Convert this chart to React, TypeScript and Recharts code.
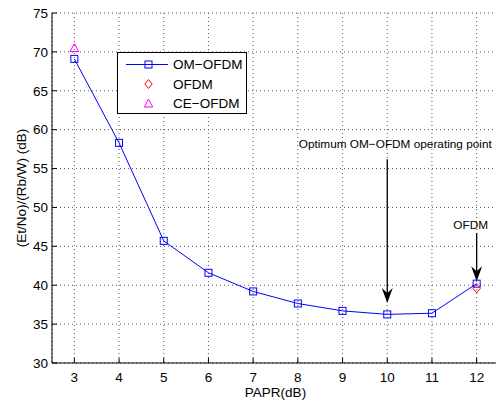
import React from 'react';
import { ComposedChart, Line, Scatter, XAxis, YAxis, CartesianGrid, ReferenceLine } from 'recharts';

const papr = [3, 4, 5, 6, 7, 8, 9, 10, 11, 12];
const omOfdm = [69.1, 58.3, 45.7, 41.6, 39.2, 37.65, 36.7, 36.25, 36.4, 40.2];
const ofdmX = [12];
const ofdmY = [39.6];
const ceOfdmX = [3];
const ceOfdmY = [70.5];
const xTicks = [3, 4, 5, 6, 7, 8, 9, 10, 11, 12];
const yTicks = [30, 35, 40, 45, 50, 55, 60, 65, 70, 75];
const xDomain = [2.5, 12.5];
const yDomain = [30, 75];
const legendNames = ['OM−OFDM', 'OFDM', 'CE−OFDM'];
const annotationText = ['Optimum OM−OFDM operating point', 'OFDM'];
const annotationX = [10, 12];
const annotationFrom = [56.2, 46.7];
const annotationTo = [37.7, 40.5];

const omData = papr.map((x, i) => ({ x, om: omOfdm[i] }));
const ofdmData = ofdmX.map((x, i) => ({ x, ofdm: ofdmY[i] }));
const ceData = ceOfdmX.map((x, i) => ({ x, ce: ceOfdmY[i] }));

const FONT = '"Liberation Sans", Arial, Helvetica, sans-serif';
const BLUE = '#0000ff';
const RED = '#ff0000';
const MAGENTA = '#ff00ff';
const labelDx = [8, -6];
const labelDy = [-11, -4];
const TICK_FS = 13.5;

const Square = (cx: number, cy: number, key?: any) => (
  <rect key={key} x={cx - 3.5} y={cy - 3.5} width={7} height={7} fill="none" stroke={BLUE} strokeWidth={1} />
);
const Diamond = (cx: number, cy: number) => (
  <polygon points={`${cx},${cy - 4.5} ${cx + 3.7},${cy} ${cx},${cy + 4.5} ${cx - 3.7},${cy}`} fill="none" stroke={RED} strokeWidth={1} />
);
const Triangle = (cx: number, cy: number) => (
  <polygon points={`${cx},${cy - 4.5} ${cx + 4.2},${cy + 3.5} ${cx - 4.2},${cy + 3.5}`} fill="none" stroke={MAGENTA} strokeWidth={1} />
);

const BottomTick = (props: any) => {
  const { x, y, payload } = props;
  return (
    <g>
      <line x1={x} x2={x} y1={y} y2={y - 5} stroke="#000" />
      <text x={x} y={y + 19} textAnchor="middle" fontSize={TICK_FS} fontFamily={FONT} fill="#000">{payload.value}</text>
    </g>
  );
};
const TopTick = (props: any) => {
  const { x, y } = props;
  return <line x1={x} x2={x} y1={y} y2={y + 5} stroke="#000" />;
};
const LeftTick = (props: any) => {
  const { x, y, payload } = props;
  return (
    <g>
      <line x1={x} x2={x + 5} y1={y} y2={y} stroke="#000" />
      <text x={x - 4} y={y} dy="0.35em" textAnchor="end" fontSize={TICK_FS} fontFamily={FONT} fill="#000">{payload.value}</text>
    </g>
  );
};

const makeArrow = (i: number) => (p: any) => {
  const { x1, y1, x2, y2 } = p;
  return (
    <g>
      <line x1={x1} y1={y1} x2={x2} y2={y2 - 10} stroke="#000" strokeWidth={1.3} />
      <polygon points={`${x2},${y2} ${x2 - 5.5},${y2 - 15} ${x2},${y2 - 10} ${x2 + 5.5},${y2 - 15}`} fill="#000" />
      <text x={x1 + labelDx[i]} y={y1 + labelDy[i]} textAnchor="middle" fontSize={11.8} fontFamily={FONT} fill="#000">{annotationText[i]}</text>
    </g>
  );
};

const Legend = () => (
  <div style={{ position: 'absolute', left: 117, top: 52, width: 128, height: 60, border: '1px solid #000', background: '#fff', fontFamily: FONT, fontSize: 13 }}>
    <svg width={128} height={60} style={{ position: 'absolute', left: 0, top: 0 }}>
      <line x1={8} x2={50} y1={11.5} y2={11.5} stroke={BLUE} />
      {Square(30.5, 11.5)}
      {Diamond(30.5, 31)}
      {Triangle(30.5, 50.5)}
      {legendNames.map((n, i) => (
        <text key={n} x={55} y={11.5 + i * 19.5} dy="0.36em" fontSize={13.5} fontFamily={FONT} fill="#000">{n}</text>
      ))}
    </svg>
  </div>
);

export default function App() {
  return (
    <div style={{ position: 'absolute', left: 0, top: 0, width: 496, height: 402, overflow: 'hidden', background: '#fff' }}>
      <ComposedChart width={500} height={402} margin={{ top: 13, right: 1, left: 0, bottom: 9 }}>
        <CartesianGrid stroke="#555" strokeDasharray="1 3" />
        <XAxis dataKey="x" type="number" domain={xDomain} ticks={xTicks} height={30} tickSize={0} tickMargin={0}
          tick={BottomTick} axisLine={{ stroke: '#000' }} tickLine={false} allowDataOverflow
          label={({ viewBox }: any) => (
            <text x={viewBox.x + viewBox.width / 2} y={397} textAnchor="middle" fontSize={TICK_FS} fontFamily={FONT} fill="#000">PAPR(dB)</text>
          )} />
        <XAxis xAxisId="top" orientation="top" dataKey="x" type="number" domain={xDomain} ticks={xTicks} height={0}
          tickSize={0} tickMargin={0} tick={TopTick} axisLine={{ stroke: '#000' }} tickLine={false} allowDataOverflow />
        <YAxis type="number" domain={yDomain} ticks={yTicks} width={52} tickSize={0} tickMargin={0} tick={LeftTick}
          axisLine={{ stroke: '#000' }} tickLine={false} allowDataOverflow
          label={({ viewBox }: any) => {
            const cx = 21;
            const cy = viewBox.y + viewBox.height / 2;
            return (
              <text x={cx} y={cy} transform={`rotate(-90 ${cx} ${cy})`} textAnchor="middle" dominantBaseline="central" fontSize={TICK_FS} fontFamily={FONT} fill="#000">(Et/No)/(Rb/W) (dB)</text>
            );
          }} />
        <Line data={omData} dataKey="om" stroke={BLUE} strokeWidth={1} isAnimationActive={false}
          dot={(p: any) => Square(p.cx, p.cy, p.index)} activeDot={false} />
        <Scatter data={ofdmData} dataKey="ofdm" isAnimationActive={false} shape={(p: any) => Diamond(p.cx, p.cy)} />
        <Scatter data={ceData} dataKey="ce" isAnimationActive={false} shape={(p: any) => Triangle(p.cx, p.cy)} />
        {annotationX.map((x, i) => (
          <ReferenceLine key={i} segment={[{ x, y: annotationFrom[i] }, { x, y: annotationTo[i] }]} ifOverflow="visible" shape={makeArrow(i)} />
        ))}
      </ComposedChart>
      <Legend />
    </div>
  );
}
